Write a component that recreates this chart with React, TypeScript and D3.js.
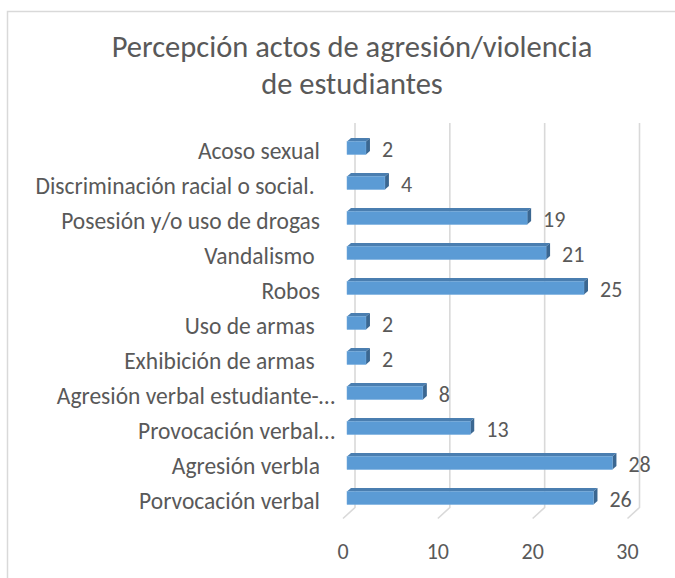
import React from "react";
import * as d3 from "d3";

const categories = [
  "Acoso sexual",
  "Discriminación racial o social. ",
  "Posesión y/o uso de drogas",
  "Vandalismo ",
  "Robos",
  "Uso de armas ",
  "Exhibición de armas ",
  "Agresión verbal estudiante-…",
  "Provocación verbal…",
  "Agresión verbla",
  "Porvocación verbal",
];
const values = [2, 4, 19, 21, 25, 2, 2, 8, 13, 28, 26];
const ticks = [0, 10, 20, 30];
const titleLines = ["Percepción actos de agresión/violencia", "de estudiantes"];

const W = 675;
const H = 578;
const FONT = "Calibri, Carlito, Lato, sans-serif";
const TEXT = "#595959";
const GRID = "#D9D9D9";

export default function App() {
  const xBack = d3.scaleLinear().domain([0, 30]).range([355, 639.5]);
  const xFront = d3.scaleLinear().domain([0, 30]).range([343, 627.5]);
  const xBar = d3.scaleLinear().domain([0, 30]).range([347, 631.4]);
  const y = d3.scaleBand<string>().domain(categories).range([130.5, 515.5]);
  const bw = y.bandwidth();
  const hh = 6.5;
  const dx = 4;
  const dy = -3.5;

  return (
    <svg
      width={W}
      height={H}
      style={{ position: "absolute", left: 0, top: 0, background: "#fff" }}
      fontFamily={FONT}
    >
      <rect x={7.5} y={11.5} width={W + 20} height={H + 20} fill="#fff" stroke={GRID} strokeWidth={1.5} />
      {titleLines.map((t, i) => (
        <text
          key={i}
          x={352}
          y={57 + i * 37}
          textAnchor="middle"
          fontSize={30.5}
          fontWeight={300}
          fill={TEXT}
        >
          {t}
        </text>
      ))}
      {ticks.map((t) => (
        <path
          key={"g" + t}
          d={`M${xBack(t)},123 V507.5 L${xFront(t)},518.5`}
          stroke={GRID}
          strokeWidth={1.6}
          fill="none"
        />
      ))}
      {categories.map((c, i) => {
        const cy = (y(c) as number) + bw / 2;
        const x0 = xBar(0);
        const x1 = xBar(values[i]);
        const top = cy - hh;
        const bot = cy + hh;
        return (
          <g key={c}>
            <polygon
              points={`${x0},${top} ${x0 + dx},${top + dy} ${x1 + dx},${top + dy} ${x1},${top}`}
              fill="#4A7EB0"
            />
            <polygon
              points={`${x1},${top} ${x1 + dx},${top + dy} ${x1 + dx},${bot + dy} ${x1},${bot}`}
              fill="#3B6791"
            />
            <rect x={x0} y={top} width={x1 - x0} height={bot - top} fill="#5B9BD5" stroke="#6FA8DC" strokeWidth={0.5} />
            <text
              x={x1 + 16}
              y={cy + 1}
              dominantBaseline="central"
              fontSize={22}
              fill={TEXT}
            >
              {values[i]}
            </text>
            <text
              x={c.endsWith("…") ? 335 : 320}
              y={cy + 3}
              dominantBaseline="central"
              textAnchor="end"
              fontSize={23.5}
              fill={TEXT}
              style={{ whiteSpace: "pre" }}
            >
              {c}
            </text>
          </g>
        );
      })}
      {ticks.map((t) => (
        <text
          key={"t" + t}
          x={xFront(t)}
          y={551}
          textAnchor="middle"
          dominantBaseline="central"
          fontSize={22}
          fill={TEXT}
        >
          {t}
        </text>
      ))}
    </svg>
  );
}
